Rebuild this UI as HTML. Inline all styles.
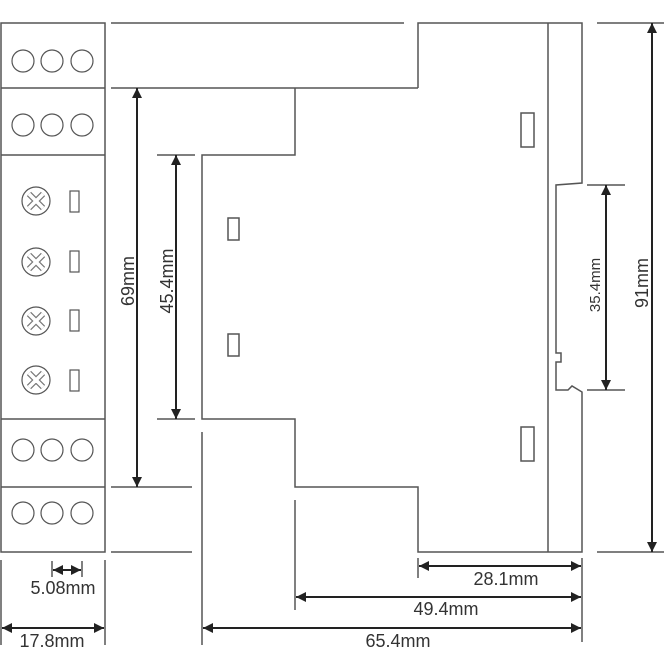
<!DOCTYPE html>
<html><head><style>body{margin:0;background:#fff}svg{display:block}</style></head><body>
<svg width="664" height="649" viewBox="0 0 664 649" xmlns="http://www.w3.org/2000/svg" font-family="Liberation Sans, sans-serif">
<defs>
<marker id="a" viewBox="0 0 10 10" refX="10" refY="5" markerWidth="12" markerHeight="10" orient="auto-start-reverse" markerUnits="userSpaceOnUse"><path d="M0,0 L10,5 L0,10z" fill="#222"/></marker>
</defs>
<g fill="none" stroke="#555" stroke-width="1.5">
<rect x="1" y="23" width="104" height="529"/>
<line x1="1" y1="88" x2="105" y2="88"/><line x1="1" y1="155" x2="105" y2="155"/>
<line x1="1" y1="419" x2="105" y2="419"/><line x1="1" y1="487" x2="105" y2="487"/>
<g stroke-width="1.2">
<circle cx="23" cy="61" r="11"/><circle cx="52" cy="61" r="11"/><circle cx="82" cy="61" r="11"/>
<circle cx="23" cy="125" r="11"/><circle cx="52" cy="125" r="11"/><circle cx="82" cy="125" r="11"/>
<circle cx="23" cy="450" r="11"/><circle cx="52" cy="450" r="11"/><circle cx="82" cy="450" r="11"/>
<circle cx="23" cy="513" r="11"/><circle cx="52" cy="513" r="11"/><circle cx="82" cy="513" r="11"/>
</g>
<g stroke-width="1.2">
<circle cx="36" cy="201" r="14"/><circle cx="36" cy="262" r="14"/><circle cx="36" cy="321" r="14"/><circle cx="36" cy="380" r="14"/>
<path d="M29,194 L43,208 M43,194 L29,208 M29,255 L43,269 M43,255 L29,269 M29,314 L43,328 M43,314 L29,328 M29,373 L43,387 M43,373 L29,387" stroke-width="6" stroke="#777"/>
<path d="M29,194 L43,208 M43,194 L29,208 M29,255 L43,269 M43,255 L29,269 M29,314 L43,328 M43,314 L29,328 M29,373 L43,387 M43,373 L29,387" stroke-width="3.6" stroke="#fff"/>
<rect x="70" y="191" width="9" height="21"/><rect x="70" y="251" width="9" height="21"/>
<rect x="70" y="310" width="9" height="21"/><rect x="70" y="370" width="9" height="21"/>
</g>
<line x1="111" y1="23" x2="404" y2="23"/>
<path d="M111,88 H418 M418,88 V23 H582 V183 L556,185 V353 H561 V362 H556 V390 H568 L572,386 L582,392 V552 H418 V487 H295 V419 H202 V155 H295 V88"/>
<line x1="548" y1="23" x2="548" y2="552"/>
<line x1="111" y1="487" x2="192" y2="487"/>
<line x1="111" y1="552" x2="192" y2="552"/>
<line x1="157" y1="155" x2="195" y2="155"/><line x1="157" y1="419" x2="195" y2="419"/>
<rect x="228" y="218" width="11" height="22"/><rect x="228" y="334" width="11" height="22"/>
<rect x="521" y="113" width="13" height="34"/><rect x="521" y="427" width="13" height="34"/>
<line x1="597" y1="23" x2="664" y2="23"/><line x1="597" y1="552" x2="664" y2="552"/>
<line x1="587" y1="185" x2="625" y2="185"/><line x1="587" y1="390" x2="625" y2="390"/>
<line x1="1" y1="560" x2="1" y2="645"/><line x1="105" y1="560" x2="105" y2="645"/>
<line x1="52" y1="561" x2="52" y2="577"/><line x1="82" y1="561" x2="82" y2="577"/>
<line x1="202" y1="432" x2="202" y2="645"/><line x1="295" y1="500" x2="295" y2="610"/>
<line x1="418" y1="558" x2="418" y2="578"/><line x1="582" y1="558" x2="582" y2="642"/>
</g>
<g stroke="#222" stroke-width="2" fill="none">
<line x1="137" y1="88" x2="137" y2="487" marker-start="url(#a)" marker-end="url(#a)"/>
<line x1="176" y1="155" x2="176" y2="419" marker-start="url(#a)" marker-end="url(#a)"/>
<line x1="606" y1="185" x2="606" y2="390" marker-start="url(#a)" marker-end="url(#a)"/>
<line x1="652" y1="23" x2="652" y2="552" marker-start="url(#a)" marker-end="url(#a)"/>
<line x1="53" y1="570" x2="81" y2="570" marker-start="url(#a)" marker-end="url(#a)"/>
<line x1="2" y1="628" x2="104" y2="628" marker-start="url(#a)" marker-end="url(#a)"/>
<line x1="419" y1="566" x2="581" y2="566" marker-start="url(#a)" marker-end="url(#a)"/>
<line x1="296" y1="597" x2="581" y2="597" marker-start="url(#a)" marker-end="url(#a)"/>
<line x1="203" y1="628" x2="581" y2="628" marker-start="url(#a)" marker-end="url(#a)"/>
</g>
<g fill="#333" font-size="18">
<text x="63" y="594" text-anchor="middle">5.08mm</text>
<text x="52" y="647" text-anchor="middle">17.8mm</text>
<text x="506" y="585" text-anchor="middle">28.1mm</text>
<text x="446" y="615" text-anchor="middle">49.4mm</text>
<text x="398" y="647" text-anchor="middle">65.4mm</text>
<text transform="translate(134,281) rotate(-90)" text-anchor="middle">69mm</text>
<text transform="translate(173,281) rotate(-90)" text-anchor="middle">45.4mm</text>
<text transform="translate(600,285) rotate(-90)" text-anchor="middle" font-size="15">35.4mm</text>
<text transform="translate(648,283) rotate(-90)" text-anchor="middle">91mm</text>
</g>
</svg>
</body></html>
